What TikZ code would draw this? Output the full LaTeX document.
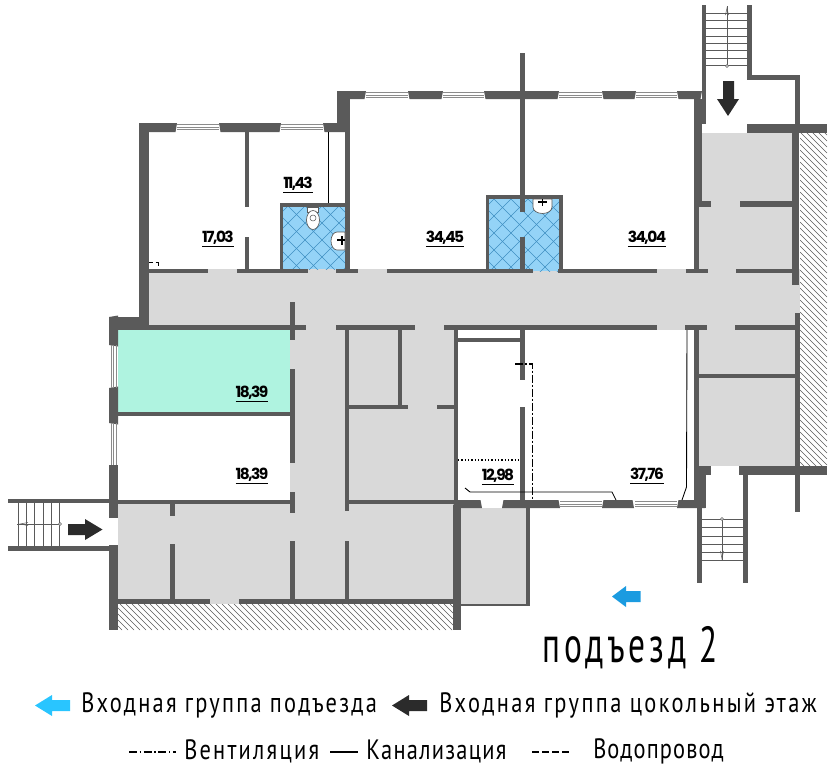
\documentclass[tikz,border=0pt]{standalone}
\usepackage{fontspec}
\newfontfamily\areafont[LetterSpace=-10]{Poppins}
\newfontfamily\gostfont[FakeStretch=0.8,LetterSpace=8]{PT Sans}
\newfontfamily\gostbig[FakeStretch=0.66,LetterSpace=8]{PT Sans}
\definecolor{wallgrey}{HTML}{5A5A5A}
\definecolor{hallgrey}{HTML}{D9D9D9}
\definecolor{tileblue}{HTML}{94D3F7}
\definecolor{tileline}{HTML}{3F8FC2}
\definecolor{roomgreen}{HTML}{AFF3E0}
\definecolor{arrowblue}{HTML}{1B9BE0}
\definecolor{legendblue}{HTML}{29C5FF}
\definecolor{arrowblack}{HTML}{2B2B2B}
\tikzset{
  wall/.style={fill=wallgrey,draw=none},
  hall/.style={fill=hallgrey,draw=none},
  glass/.style={draw=wallgrey!70,line width=.45pt},
  stairline/.style={draw=wallgrey,line width=.4pt},
  thinpipe/.style={draw=black,line width=.65pt},
  area/.style={font=\areafont\bfseries\fontsize{11.5}{13}\selectfont,inner sep=0pt},
  legendtext/.style={font=\gostfont\fontsize{21}{24}\selectfont,inner sep=0pt,anchor=west}
}
\newcommand{\areatext}[1]{\underline{#1}}
\begin{document}
\begin{tikzpicture}[x=.75pt,y=-.75pt]
\useasboundingbox (0,0) rectangle (832,768);

% floors
\fill[hall] (149,269) rectangle (800,330);
\fill[hall] (702,133) rectangle (795,207);
\fill[hall] (699,207) rectangle (795,273);
\fill[hall] (699,330) rectangle (795,466);
\fill[hall] (290,330) rectangle (454,604);
\fill[hall] (118,504) rectangle (454,604);
\fill[hall] (461,508) rectangle (527,605);
\fill[roomgreen] (118,330) rectangle (290,412);

% tiled rooms
\begin{scope}
\clip (283,206) rectangle (346,269);
\fill[tileblue] (283,206) rectangle (346,269);
\foreach \t in {-80,-63,...,160} {
  \draw[tileline,line width=.35pt] (283+\t,206) -- ++(90,90);
  \draw[tileline,line width=.35pt] (283+\t,206) -- ++(-90,90);
}
\end{scope}
\begin{scope}
\clip (489,199) rectangle (559,271);
\fill[tileblue] (489,199) rectangle (559,271);
\foreach \t in {-80,-63,...,180} {
  \draw[tileline,line width=.35pt] (489+\t,199) -- ++(90,90);
  \draw[tileline,line width=.35pt] (489+\t,199) -- ++(-90,90);
}
\end{scope}

% earth hatching
\begin{scope}
\clip (800,133) rectangle (827,466);
\foreach \t in {-30,-24,...,470}
  \draw[wallgrey,line width=.4pt] (800,\t) -- ++(27,27);
\end{scope}
\begin{scope}
\clip (118,604) rectangle (453,630);
\foreach \t in {90,96,...,460}
  \draw[wallgrey,line width=.4pt] (\t,604) -- ++(26,26);
\end{scope}

% walls
\foreach \xa/\ya/\xb/\yb in {
  139/123/149/325, 109/317/149/330, 337/91/350/132, 345/132/350/270,
  245/132/249/207, 245/237/249/270,
  280/203/283/270, 346/203/350/270, 280/203/350/207,
  486/195/489/270, 559/195/563/270, 486/195/563/199,
  149/269/208/273, 237/269/308/273, 336/269/358/273, 387/269/533/273,
  558/269/657/273, 686/269/708/273, 736/269/797/273,
  694/99/699/272, 694/99/702/205, 520/53/525/212, 520/237/525/270,
  702/5/706/124, 747/5/752/80, 747/75/800/80, 795/75/800/124,
  747/124/827/133, 792/133/799/285,
  698/201/711/207, 740/201/793/207,
  149/325/306/330, 336/325/415/330, 444/325/657/330, 685/325/707/330, 735/325/795/330,
  290/302/295/340, 290/369/295/463, 290/492/295/513, 290/541/295/600,
  118/412/290/416, 118/500/290/504, 8/499/109/503, 8/546/109/551,
  170/504/175/516, 170/544/175/600,
  118/599/210/604, 239/599/454/604,
  109/465/118/518, 109/545/118/630, 453/505/461/630,
  345/330/349/511, 345/541/349/600, 398/330/402/405,
  349/405/408/409, 437/405/455/409, 349/500/454/504,
  454/330/458/505, 457/338/520/342, 520/330/525/380, 520/407/525/500,
  795/313/800/512, 699/374/795/378, 694/330/699/466, 694/466/706/508,
  739/466/827/475, 699/466/711/475,
  697/508/702/583, 743/475/748/583, 526/508/530/606, 461/604/530/606
} \fill[wall] (\xa,\ya) rectangle (\xb,\yb);

% window piers, first y on the outer side
\foreach \xa/\xb/\ya/\yb in {
  139/177/123/132, 219/281/123/132, 323/348/123/132,
  337/366/91/99, 408/443/91/99, 484/559/91/99, 602/636/91/99, 677/702/91/99,
  453/482/508/500, 502/560/508/500, 602/634/508/500, 677/705/508/500
} \fill[wall] (\xa,\ya) -- (\xb,\ya) -- (\xb-1.5,\yb) -- (\xa+1.5,\yb) -- cycle;
\foreach \ya/\yb in {317/345, 388/423}
  \fill[wall] (109,\ya) -- (109,\yb) -- (118,\yb+1.5) -- (118,\ya-1.5) -- cycle;

% windows
\foreach \xa/\xb/\ya in {177/219/124.5, 281/323/124.5, 366/408/92.5, 443/484/92.5,
  559/602/92.5, 636/677/92.5, 560/602/501.5, 635/677/501.5}
  \foreach \d in {0,2.5,5}
    \draw[glass] (\xa,\ya+\d) -- (\xb,\ya+\d);
\foreach \ya/\yb in {345/388, 423/465}
  \foreach \d in {111,113.5,116}
    \draw[glass] (\d,\ya) -- (\d,\yb);

% stairs
\foreach \y in {13,20,28,36,43,50,58,65}
  \draw[stairline] (706,\y) -- (747,\y);
\draw[stairline] (727,6) -- (727,66);
\draw[stairline,fill=white] (727,66) circle (1.5);
\draw[stairline] (725.5,15) -- (727,8) -- (728.5,15);
\foreach \y in {519,527,536,544,552,560}
  \draw[stairline] (702,\y) -- (743,\y);
\draw[stairline] (722,519) -- (722,561);
\draw[stairline,fill=white] (722,519) circle (1.5);
\draw[stairline] (720.5,551) -- (722,559) -- (723.5,551);
\foreach \x in {18,26,34,43,51,59}
  \draw[stairline] (\x,503) -- (\x,546);
\draw[stairline] (17,524) -- (60,524);
\draw[stairline,fill=white] (60,524) circle (1.5);
\draw[stairline] (28,522.5) -- (20,524) -- (28,525.5);

% plumbing
\fill[white,draw=wallgrey,line width=.4pt] (307,207) rectangle (318,212);
\draw[fill=white,draw=wallgrey,line width=.5pt] (313,220) ellipse (6.5 and 9.5);
\draw[wallgrey,line width=.4pt] (313,218) circle (3);
\draw[fill=white,draw=wallgrey,line width=.5pt] (345,232) -- (337,232) arc (270:90:6 and 9) -- (345,250) -- cycle;
\draw[black,line width=.8pt] (337,240) -- (345,240) (342,236) -- (342,245);
\draw[fill=white,draw=wallgrey,line width=.5pt] (533,199) -- (533,207) arc (180:0:9.5 and 6.5) -- (552,199) -- cycle;
\draw[black,line width=.8pt] (542.5,199) -- (542.5,206) (538,202) -- (547,202);
\draw[thinpipe] (328,132) -- (328,203);
\draw[thinpipe] (465,488) -- (470,492) -- (612,492) -- (616,500);
\draw[thinpipe] (687,330) -- (686.5,487) -- (682,500);
\draw[black,line width=.8pt,dash pattern=on 1pt off 1.5pt] (458,460) -- (520,460);
\draw[black,line width=.8pt,dash pattern=on 6pt off 1.5pt on 1.5pt off 1.5pt] (515,364) -- (532.5,364) -- (532.5,500);
\draw[black,line width=.6pt,dash pattern=on 3pt off 2pt] (149,262) -- (159,262) (158,262) -- (158,268);

% entrance arrows
\fill[arrowblack] (723,81) -- (734,81) -- (734,99) -- (739,99) -- (728,116) -- (717,99) -- (723,99) -- cycle;
\fill[arrowblack] (68,524) -- (85,524) -- (85,519) -- (102.5,529.5) -- (85,540) -- (85,535) -- (68,535) -- cycle;
\fill[arrowblue] (640.5,591) -- (626,591) -- (626,586) -- (612,596.5) -- (626,607) -- (626,602) -- (640.5,602) -- cycle;
\fill[legendblue] (70,700) -- (52,700) -- (52,695) -- (35,705.5) -- (52,716) -- (52,711) -- (70,711) -- cycle;
\fill[arrowblack] (427,700) -- (409,700) -- (409,695) -- (392,705.5) -- (409,716) -- (409,711) -- (427,711) -- cycle;

% room areas
\node[area] (a1703) at (218,239) {\areatext{17,03}};
\node[area] (a1143) at (298,185) {\areatext{11,43}};
\node[area] (a3445) at (445,239) {\areatext{34,45}};
\node[area] (a3404) at (647,239) {\areatext{34,04}};
\node[area] (a1839a) at (252,394) {\areatext{18,39}};
\node[area] (a1839b) at (252,476) {\areatext{18,39}};
\node[area] (a1298) at (498,477) {\areatext{12,98}};
\node[area] (a3776) at (647,476) {\areatext{37,76}};

% captions
\node[legendtext,font=\gostbig\fontsize{38}{40}\selectfont] (entr) at (542,648) {подъезд 2};
\node[legendtext] (lgroup) at (81,705) {Входная группа подъезда};
\node[legendtext] (bgroup) at (439,705) {\addfontfeature{LetterSpace=8.5}Входная группа цокольный этаж};
\draw[black,line width=.8pt,dash pattern=on 6pt off 2pt on 1pt off 2pt] (129,752) -- (176,752);
\node[legendtext] (vent) at (184,751) {Вентиляция};
\draw[black,line width=1pt] (330,752) -- (358,752);
\node[legendtext] (sewer) at (366,751) {\addfontfeature{LetterSpace=4.5}Канализация};
\draw[black,line width=.8pt,dash pattern=on 5pt off 2.5pt] (532,752) -- (570,752);
\node[legendtext] (water) at (593,751) {\addfontfeature{LetterSpace=4}Водопровод};
\end{tikzpicture}
\end{document}
